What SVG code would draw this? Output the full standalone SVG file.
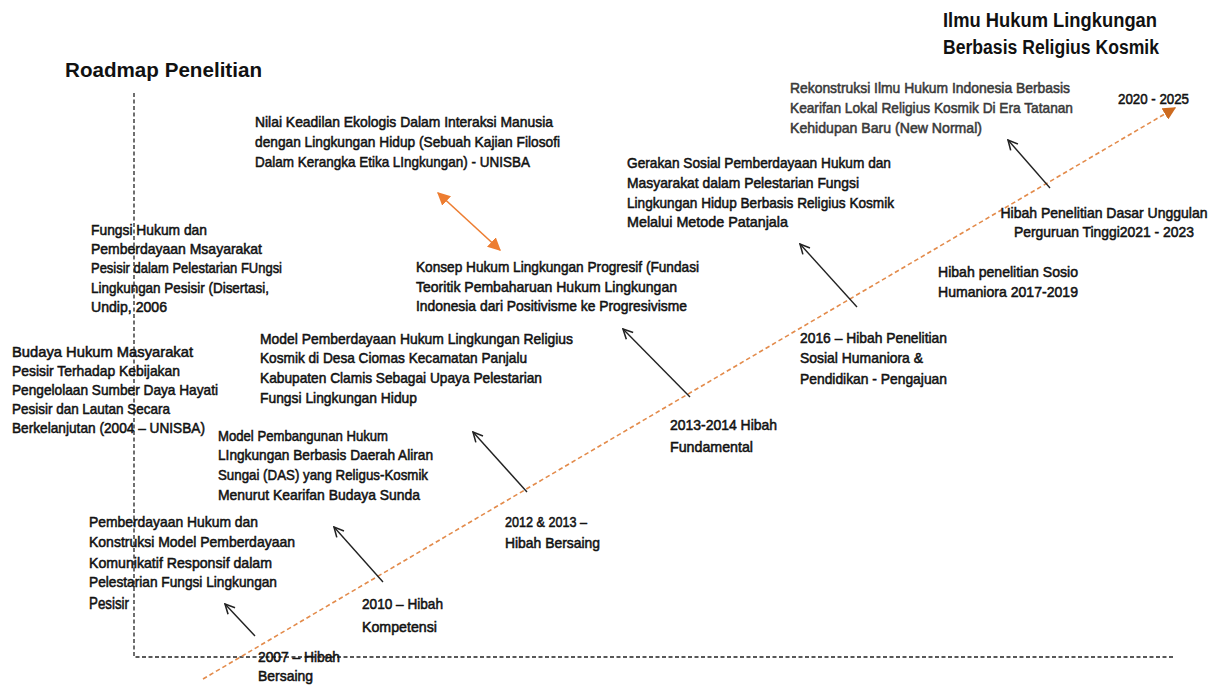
<svg xmlns="http://www.w3.org/2000/svg" width="1222" height="685" viewBox="0 0 1222 685">
  <style>
    .t { font-family: "Liberation Sans", Arial, sans-serif; font-size: 15px; fill: #121212; stroke: #121212; stroke-width: 0.55; }
    .g { fill: #3a3a3a; stroke: #3a3a3a; }
    .h { font-family: "Liberation Sans", Arial, sans-serif; font-size: 20px; font-weight: bold; fill: #111; }
    .axis { fill: none; stroke: #222; stroke-width: 1.3; stroke-dasharray: 4 2.5; }
    .time { fill: none; stroke: #E38B4B; stroke-width: 1.6; stroke-dasharray: 4.5 3; }
    .up { fill: none; stroke: #222; stroke-width: 1.4; marker-end: url(#open); }
    .link { fill: none; stroke: #ED7D31; stroke-width: 1.6; marker-start: url(#solidO); marker-end: url(#solidO); }
  </style>
  <defs>
    <marker id="open" viewBox="0 0 10 10" refX="9" refY="5" markerWidth="12" markerHeight="12" markerUnits="userSpaceOnUse" orient="auto">
      <path d="M1,1 L9,5 L1,9" fill="none" stroke="#222" stroke-width="1.3"/>
    </marker>
    <marker id="solidO" viewBox="0 0 10 10" refX="9" refY="5" markerWidth="13" markerHeight="13" markerUnits="userSpaceOnUse" orient="auto-start-reverse">
      <path d="M0,0 L10,5 L0,10 Z" fill="#ED7D31"/>
    </marker>
    <marker id="solidT" viewBox="0 0 10 10" refX="9" refY="5" markerWidth="13" markerHeight="13" markerUnits="userSpaceOnUse" orient="auto">
      <path d="M0,0 L10,5 L0,10 Z" fill="#CC6A1F"/>
    </marker>
  </defs>

  <rect width="1222" height="685" fill="#fff"/>

  <!-- headings -->
  <text class="h" x="65" y="77" textLength="197" lengthAdjust="spacingAndGlyphs">Roadmap Penelitian</text>
  <text class="h" x="943" y="27" textLength="214" lengthAdjust="spacingAndGlyphs">Ilmu Hukum Lingkungan</text>
  <text class="h" x="943" y="54" textLength="216" lengthAdjust="spacingAndGlyphs">Berbasis Religius Kosmik</text>

  <!-- connectors: axes, time line and links -->
  <g id="connectors">
    <path class="axis" d="M134,93 V657 H1173"/>
    <line class="time" x1="203" y1="679" x2="1175" y2="108" marker-end="url(#solidT)"/>
    <line class="up" x1="255" y1="636" x2="225" y2="604"/>
    <line class="up" x1="383" y1="582" x2="334" y2="527"/>
    <line class="up" x1="527" y1="492" x2="473" y2="432"/>
    <line class="up" x1="690" y1="397" x2="623" y2="329"/>
    <line class="up" x1="857" y1="307" x2="800" y2="244"/>
    <line class="up" x1="1050" y1="188" x2="1008" y2="140"/>
    <line class="link" x1="438" y1="193" x2="500" y2="250"/>
  </g>

  <!-- research topics -->
  <g id="fungsi-hukum" class="t">
    <text x="91" y="235" textLength="116" lengthAdjust="spacingAndGlyphs">Fungsi Hukum dan</text>
    <text x="91" y="254" textLength="171" lengthAdjust="spacingAndGlyphs">Pemberdayaan Msayarakat</text>
    <text x="91" y="273" textLength="191" lengthAdjust="spacingAndGlyphs">Pesisir dalam Pelestarian FUngsi</text>
    <text x="91" y="293" textLength="178" lengthAdjust="spacingAndGlyphs">Lingkungan Pesisir (Disertasi,</text>
    <text x="91" y="312" textLength="76" lengthAdjust="spacingAndGlyphs">Undip, 2006</text>
  </g>

  <g id="budaya-hukum" class="t">
    <text x="12" y="357" textLength="181" lengthAdjust="spacingAndGlyphs">Budaya Hukum Masyarakat</text>
    <text x="12" y="376" textLength="168" lengthAdjust="spacingAndGlyphs">Pesisir Terhadap Kebijakan</text>
    <text x="12" y="395" textLength="206" lengthAdjust="spacingAndGlyphs">Pengelolaan Sumber Daya Hayati</text>
    <text x="12" y="414" textLength="158" lengthAdjust="spacingAndGlyphs">Pesisir dan Lautan Secara</text>
    <text x="12" y="433" textLength="193" lengthAdjust="spacingAndGlyphs">Berkelanjutan (2004 – UNISBA)</text>
  </g>

  <g id="nilai-keadilan" class="t">
    <text x="255" y="127" textLength="298" lengthAdjust="spacingAndGlyphs">Nilai Keadilan Ekologis Dalam Interaksi Manusia</text>
    <text x="255" y="147" textLength="305" lengthAdjust="spacingAndGlyphs">dengan Lingkungan Hidup (Sebuah Kajian Filosofi</text>
    <text x="255" y="167" textLength="275" lengthAdjust="spacingAndGlyphs">Dalam Kerangka Etika LIngkungan) - UNISBA</text>
  </g>

  <g id="konsep-progresif" class="t">
    <text x="416" y="272" textLength="283" lengthAdjust="spacingAndGlyphs">Konsep Hukum Lingkungan Progresif (Fundasi</text>
    <text x="416" y="292" textLength="261" lengthAdjust="spacingAndGlyphs">Teoritik Pembaharuan Hukum Lingkungan</text>
    <text x="416" y="311" textLength="271" lengthAdjust="spacingAndGlyphs">Indonesia dari Positivisme ke Progresivisme</text>
  </g>

  <g id="model-ciomas" class="t">
    <text x="260" y="344" textLength="313" lengthAdjust="spacingAndGlyphs">Model Pemberdayaan Hukum Lingkungan Religius</text>
    <text x="260" y="363" textLength="267" lengthAdjust="spacingAndGlyphs">Kosmik di Desa Ciomas Kecamatan Panjalu</text>
    <text x="260" y="383" textLength="282" lengthAdjust="spacingAndGlyphs">Kabupaten Clamis Sebagai Upaya Pelestarian</text>
    <text x="260" y="403" textLength="157" lengthAdjust="spacingAndGlyphs">Fungsi Lingkungan Hidup</text>
  </g>

  <g id="model-das" class="t">
    <text x="218" y="441" textLength="170" lengthAdjust="spacingAndGlyphs">Model Pembangunan Hukum</text>
    <text x="218" y="460" textLength="215" lengthAdjust="spacingAndGlyphs">LIngkungan Berbasis Daerah Aliran</text>
    <text x="218" y="480" textLength="210" lengthAdjust="spacingAndGlyphs">Sungai (DAS) yang Religus-Kosmik</text>
    <text x="218" y="500" textLength="202" lengthAdjust="spacingAndGlyphs">Menurut Kearifan Budaya Sunda</text>
  </g>

  <g id="pemberdayaan-pesisir" class="t">
    <text x="89" y="527" textLength="169" lengthAdjust="spacingAndGlyphs">Pemberdayaan Hukum dan</text>
    <text x="89" y="547" textLength="206" lengthAdjust="spacingAndGlyphs">Konstruksi Model Pemberdayaan</text>
    <text x="89" y="568" textLength="183" lengthAdjust="spacingAndGlyphs">Komunikatif Responsif dalam</text>
    <text x="89" y="587" textLength="188" lengthAdjust="spacingAndGlyphs">Pelestarian Fungsi Lingkungan</text>
    <text x="89" y="609" textLength="40" lengthAdjust="spacingAndGlyphs" font-size="16">Pesisir</text>
  </g>

  <g id="gerakan-sosial" class="t">
    <text x="627" y="168" textLength="264" lengthAdjust="spacingAndGlyphs">Gerakan Sosial Pemberdayaan Hukum dan</text>
    <text x="627" y="188" textLength="232" lengthAdjust="spacingAndGlyphs">Masyarakat dalam Pelestarian Fungsi</text>
    <text x="627" y="208" textLength="267" lengthAdjust="spacingAndGlyphs">Lingkungan Hidup Berbasis Religius Kosmik</text>
    <text x="627" y="227" textLength="161" lengthAdjust="spacingAndGlyphs">Melalui Metode Patanjala</text>
  </g>

  <g id="rekonstruksi" class="t g">
    <text x="790" y="93" textLength="280" lengthAdjust="spacingAndGlyphs">Rekonstruksi Ilmu Hukum Indonesia Berbasis</text>
    <text x="790" y="113" textLength="283" lengthAdjust="spacingAndGlyphs">Kearifan Lokal Religius Kosmik Di Era Tatanan</text>
    <text x="790" y="133" textLength="192" lengthAdjust="spacingAndGlyphs">Kehidupan Baru (New Normal)</text>
  </g>

  <!-- grants along the time line -->
  <g id="hibah-2007" class="t">
    <text x="258" y="662" textLength="82" lengthAdjust="spacingAndGlyphs">2007 – Hibah</text>
    <text x="258" y="681" textLength="55" lengthAdjust="spacingAndGlyphs">Bersaing</text>
  </g>
  <g id="hibah-2010" class="t">
    <text x="362" y="609" textLength="81" lengthAdjust="spacingAndGlyphs">2010 – Hibah</text>
    <text x="362" y="632" textLength="75" lengthAdjust="spacingAndGlyphs">Kompetensi</text>
  </g>
  <g id="hibah-2012" class="t">
    <text x="505" y="527" textLength="82" lengthAdjust="spacingAndGlyphs">2012 &amp; 2013 –</text>
    <text x="505" y="548" textLength="95" lengthAdjust="spacingAndGlyphs">Hibah Bersaing</text>
  </g>
  <g id="hibah-2013" class="t">
    <text x="670" y="430" textLength="107" lengthAdjust="spacingAndGlyphs">2013-2014 Hibah</text>
    <text x="670" y="452" textLength="83" lengthAdjust="spacingAndGlyphs">Fundamental</text>
  </g>
  <g id="hibah-2016" class="t">
    <text x="800" y="343" textLength="147" lengthAdjust="spacingAndGlyphs">2016 – Hibah Penelitian</text>
    <text x="800" y="363" textLength="123" lengthAdjust="spacingAndGlyphs">Sosial Humaniora &amp;</text>
    <text x="800" y="384" textLength="147" lengthAdjust="spacingAndGlyphs">Pendidikan -  Pengajuan</text>
  </g>
  <g id="hibah-2017" class="t" text-anchor="middle">
    <text x="1008" y="277" textLength="140" lengthAdjust="spacingAndGlyphs">Hibah penelitian Sosio</text>
    <text x="1008" y="297" textLength="140" lengthAdjust="spacingAndGlyphs">Humaniora 2017-2019</text>
  </g>
  <g id="hibah-2021" class="t" text-anchor="middle">
    <text x="1104" y="218" textLength="207" lengthAdjust="spacingAndGlyphs">Hibah Penelitian Dasar Unggulan</text>
    <text x="1104" y="237" textLength="180" lengthAdjust="spacingAndGlyphs">Perguruan Tinggi2021 - 2023</text>
  </g>
  <g id="periode-2020" class="t">
    <text x="1118" y="104" textLength="71" lengthAdjust="spacingAndGlyphs">2020 - 2025</text>
  </g>
</svg>
